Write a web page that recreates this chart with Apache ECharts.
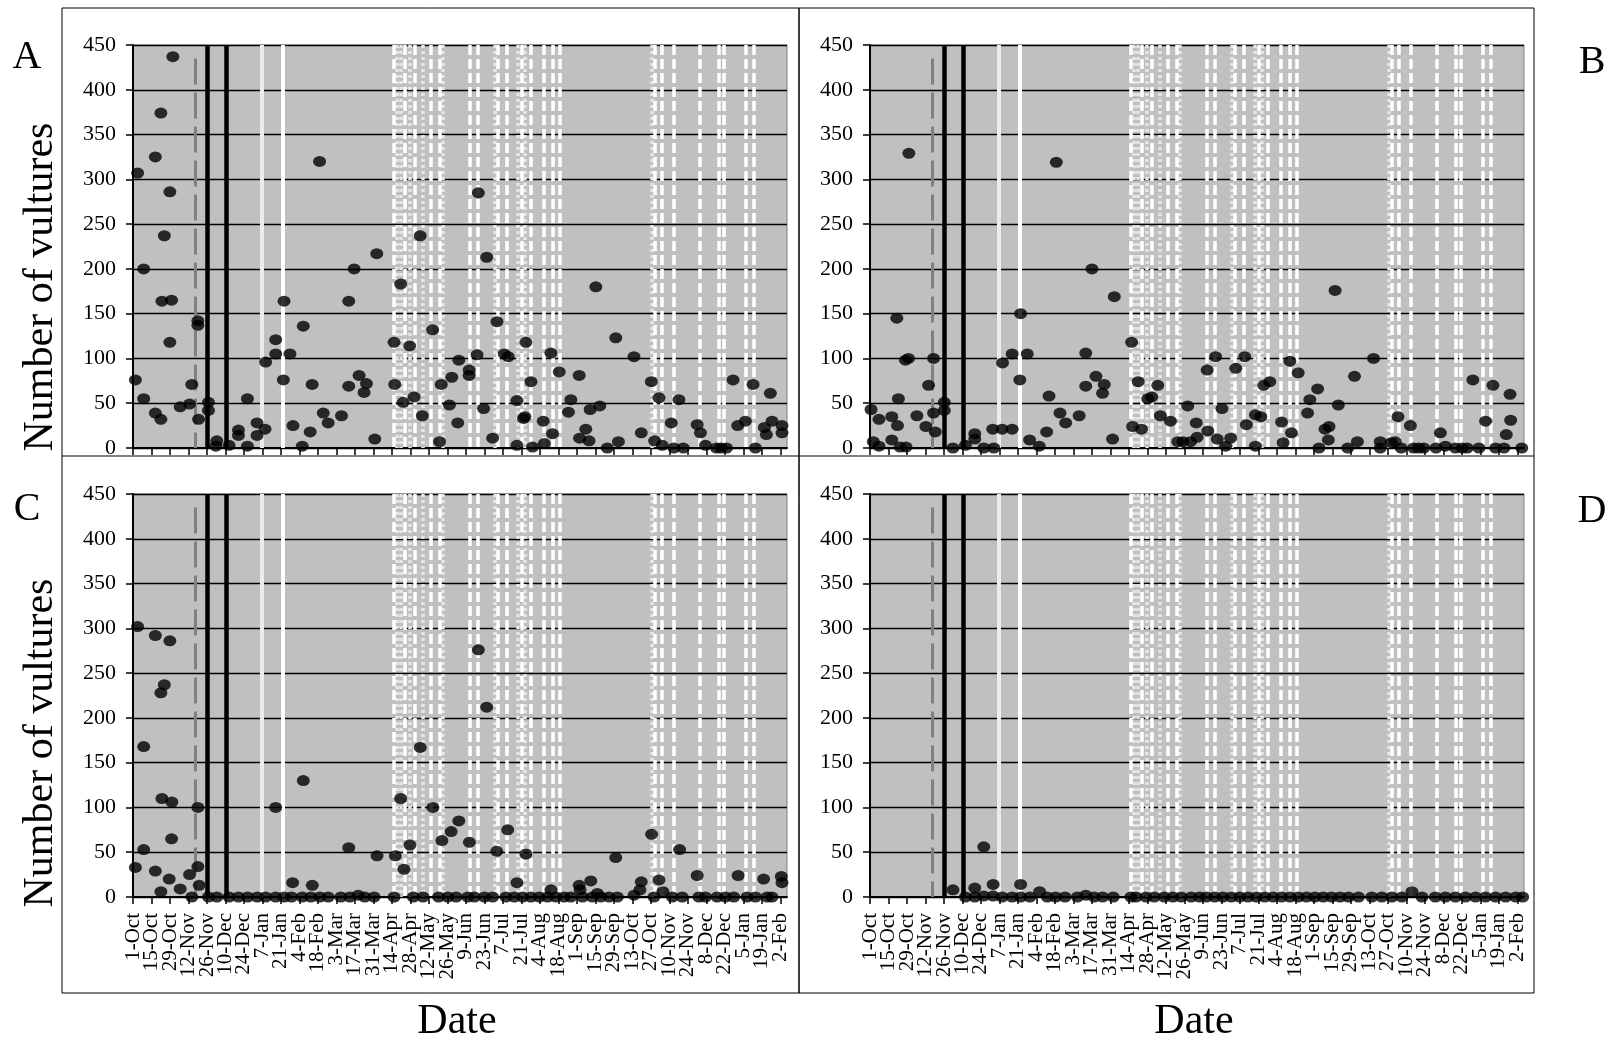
<!DOCTYPE html>
<html>
<head>
<meta charset="utf-8">
<title>Number of vultures</title>
<script src="https://cdn.jsdelivr.net/npm/echarts@6.0.0/dist/echarts.min.js"></script>
<style>
  html, body { margin: 0; padding: 0; background: #fff; }
  #chart { width: 1611px; height: 1043px; }
</style>
</head>
<body>
<div id="chart"></div>
<script>
// tick labels, one every 14 days starting 1-Oct
var dateLabels = ['1-Oct','15-Oct','29-Oct','12-Nov','26-Nov','10-Dec','24-Dec','7-Jan','21-Jan','4-Feb',
  '18-Feb','3-Mar','17-Mar','31-Mar','14-Apr','28-Apr','12-May','26-May','9-Jun','23-Jun','7-Jul','21-Jul',
  '4-Aug','18-Aug','1-Sep','15-Sep','29-Sep','13-Oct','27-Oct','10-Nov','24-Nov','8-Dec','22-Dec','5-Jan',
  '19-Jan','2-Feb'];
var tickDays = dateLabels.map(function (s, i) { return i * 14; });
// labels split over two axes so that ECharts does not drop neighbours of the end labels
var evenDays = tickDays.filter(function (d, i) { return i % 2 === 0; });
var oddDays = tickDays.filter(function (d, i) { return i % 2 === 1; });

// vertical event lines (days after 1-Oct)
var grayDashedDays = [47];
var blackDays = [56.5, 70.5];
var whiteDays = [97.5, 113.7];
var whiteDashedDays = [197, 206, 213, 225, 232, 255, 261, 276, 283, 294, 301, 311, 318, 323,
  395, 400, 409.5, 428.8, 443, 447, 464, 469.5];
var dottedDays = [199.5, 203, 209.5, 219, 234.5, 273.5, 291, 296.5, 393];

// [day, number of vultures]
var panelA = [[1.8,76],[3.5,307],[8.1,200],[8.1,55],[16.9,325],[16.9,39],[21.1,374],[21.1,32],[21.9,164],
  [23.7,237],[27.9,286],[27.9,118],[29.2,165],[30.2,437],[35.7,46],[42.8,49],[44.5,71],[49.1,142],[49.1,137],
  [49.6,32],[57.1,51],[57.1,42],[62.7,2],[63.4,8],[72.7,3],[79.8,20],[79.8,14],[86.6,2],[86.6,55],[93.9,28],
  [93.9,14],[99.9,21],[100.4,96],[108,121],[108,105],[113.8,76],[114.3,164],[118.8,105],[121.1,25],[128.1,2],
  [128.9,136],[134.1,18],[135.6,71],[141.2,320],[144,39],[147.7,28],[157.8,36],[163.3,164],[163.3,69],
  [167.4,200],[171.1,81],[174.9,62],[176.7,72],[183,10],[184.5,217],[197.6,118],[198.1,71],[202.6,183],
  [204.4,51],[209.4,114],[212.7,57],[217.4,237],[219,36],[226.8,132],[232,7],[233.3,71],[239.5,48],[241.3,79],
  [245.8,28],[246.6,98],[254.4,87],[254.4,81],[260.4,104],[261.4,285],[265.4,44],[267.7,213],[272.2,11],
  [275.5,141],[281,105],[284,102],[290.6,53],[290.6,3],[295.6,33],[296.6,35],[297.4,118],[301.2,74],[302.4,1],
  [310.5,30],[311.3,5],[316.3,106],[317.5,16],[322.6,85],[329.6,40],[331.4,54],[337.7,81],[338,11],[342.7,21],
  [345.2,8],[346,43],[350.3,180],[353.3,47],[359,0],[365.4,123],[367.4,7],[379.2,102],[384.7,17],[392.3,74],
  [394.8,8],[398.1,56],[400.6,3],[407.4,28],[409.4,0],[413.2,54],[416.5,0],[427,26],[429.5,17],[433.3,3],
  [441.6,0],[445.1,0],[449.2,0],[454.2,76],[457.7,25],[463.5,30],[469.3,71],[471.1,0],[477.9,23],[479.4,15],
  [482.4,61],[483.7,30],[491.2,25],[491.2,17]];

var panelB = [[0.8,43],[2.5,7],[6.8,32],[6.8,2],[16.5,35],[16.5,9],[20.3,145],[20.8,25],[21.5,55],[22.8,1],
  [26.8,98],[27.3,1],[29.1,100],[29.4,329],[35.5,36],[42.3,24],[44.3,70],[48.1,100],[48.1,39],[49.4,18],
  [56.2,51],[56.2,42],[62.8,0],[72.2,3],[79.3,16],[79.3,10],[86.1,0],[92.9,21],[93.7,0],[100,21],[100.3,95],
  [107.6,105],[107.6,21],[113.4,76],[114,150],[119,105],[120.8,9],[128.1,2],[133.7,18],[135.5,58],[141,319],
  [143.8,39],[148.1,28],[158.3,36],[163.3,106],[163.3,69],[168,200],[171,80],[176,61],[177.3,71],[183.6,10],
  [184.9,169],[198,118],[198.8,24],[203,74],[205.5,21],[210.2,55],[213.2,57],[217.8,70],[219.8,36],[227.4,30],
  [233,7],[236.8,7],[240.5,47],[242.6,7],[246.9,28],[247.6,12],[255.2,87],[255.7,19],[261.6,102],[262.8,10],
  [266.4,44],[269.2,2],[273,11],[276.8,89],[283.6,102],[284.9,26],[291.7,37],[291.7,2],[295.8,35],[298,70],
  [302.6,74],[311.5,29],[312.7,6],[317.8,97],[319,17],[324.1,84],[331.2,39],[332.9,54],[338.8,66],[339.8,0],
  [344.4,21],[346.9,9],[347.4,24],[352,176],[354.5,48],[361.6,0],[366.7,80],[368.9,7],[381.1,100],[386.2,7],
  [386.2,0],[394.5,6],[397.5,7],[399.6,35],[402.1,0],[409,25],[411.5,0],[415.3,0],[419.1,0],[428.4,0],
  [431.7,17],[435.5,2],[443.1,0],[448.2,0],[452,0],[456.3,76],[460.9,0],[465.9,30],[471.5,70],[473.5,0],
  [479.8,0],[481.6,15],[484.4,60],[484.9,31],[493.3,0]];

var panelC = [[1.8,33],[3.5,302],[8.1,168],[8.1,53],[16.9,292],[16.9,29],[21.1,228],[21.1,6],[21.9,110],
  [23.7,237],[27.4,20],[27.9,286],[29.2,65],[29.4,106],[35.7,9],[42.8,25],[44.5,0],[49.1,100],[49.1,34],
  [50.1,13],[57.1,0],[63.4,0],[72.7,0],[79.8,0],[86.8,0],[94.1,0],[100.4,0],[108,100],[108,0],[114.3,0],
  [120,0],[120.8,16],[128.1,0],[128.9,130],[134.6,0],[135.7,13],[141.4,0],[147.7,0],[157.3,0],[163.3,55],
  [164.1,0],[170.4,2],[175.4,0],[182.5,0],[184.7,46],[197.6,0],[198.6,46],[202.6,110],[205.1,31],[209.6,58],
  [212.2,0],[217.4,167],[219.5,0],[227,100],[231.3,0],[233.8,63],[238.3,0],[240.8,73],[244.6,0],[246.6,85],
  [253.4,0],[254.6,61],[258.4,0],[261.4,276],[266,0],[267.7,212],[272.2,0],[275.3,51],[282.3,0],[283.6,75],
  [288.6,0],[290.6,16],[294.9,0],[297.4,48],[301.2,0],[307.5,0],[313.8,0],[316.3,8],[320.1,0],[326.3,0],
  [331.4,0],[337.7,13],[338.4,8],[340.2,0],[346.5,18],[347.7,0],[351.5,4],[354,0],[360.3,0],[365.4,44],
  [366.6,0],[379.2,2],[383.7,8],[384.7,17],[392.5,70],[394.3,0],[398.1,19],[401.1,6],[408.2,0],[413.7,53],
  [415.7,0],[427,24],[428.3,0],[433.3,0],[442.1,0],[448.4,0],[454.7,0],[458,24],[464.8,0],[471.1,0],
  [477.3,20],[479.9,0],[483.6,0],[490.7,23],[491.2,16]];

var panelD = [[62.8,8],[72.2,0],[79.3,10],[79.3,0],[86.1,56],[86.1,1],[93.2,14],[93.2,1],[100,0],[107.6,0],
  [114,14],[114,0],[121,0],[128.4,6],[134.2,0],[140.5,0],[147.6,0],[157,0],[163.3,2],[169.7,0],[176,0],
  [184.1,0],[197.5,0],[201.3,0],[208.9,0],[215.2,0],[222.8,0],[229.2,0],[235.5,0],[243.1,0],[249.4,0],
  [254.5,0],[260.8,0],[267.1,0],[273.5,0],[279.8,0],[286.1,0],[292.5,0],[298.8,0],[305.1,0],[311.5,0],
  [317.8,0],[324.1,0],[330.4,0],[336.8,0],[343.1,0],[349.4,0],[355.8,0],[362.1,0],[369.7,0],[379.8,0],
  [387.4,0],[395,0],[402.6,0],[410.2,6],[417.8,0],[427.9,0],[435.5,0],[443.1,0],[450.7,0],[458.3,0],
  [465.9,0],[473.5,0],[481.1,0],[488.7,0],[494,0]];

var serif = '"Liberation Serif", "Times New Roman", serif';

function vline(d, top, style) {
  return [{ coord: [d, top], lineStyle: style }, { coord: [d, 0] }];
}

var eventLines = [];
grayDashedDays.forEach(function (d) {
  eventLines.push(vline(d, 435, { color: '#808080', width: 3, type: [26, 8] }));
});
whiteDays.forEach(function (d, i) {
  eventLines.push(vline(d, 450, { color: i === 0 ? '#ececec' : '#ffffff', width: 4, type: 'solid' }));
});
dottedDays.forEach(function (d) {
  eventLines.push(vline(d, 450, { color: '#e6e6e6', width: 3.5, type: [3, 3] }));
});
whiteDashedDays.forEach(function (d) {
  eventLines.push(vline(d, 450, { color: '#ffffff', width: 3.5, type: [10, 4] }));
});
blackDays.forEach(function (d) {
  eventLines.push(vline(d, 450, { color: '#000000', width: 4.5, type: 'solid' }));
});

var panels = [
  { data: panelA, left: 133, top: 45, showX: false },
  { data: panelB, left: 870, top: 45, showX: false },
  { data: panelC, left: 133, top: 494, showX: true },
  { data: panelD, left: 870, top: 494, showX: true }
];

function dateLabel(show, values) {
  return {
    show: show, rotate: 90, margin: 16, fontSize: 21, fontFamily: serif, color: '#000',
    hideOverlap: false, showMinLabel: true, showMaxLabel: true, customValues: values,
    formatter: function (v) { return dateLabels[Math.round(v / 14)] || ''; }
  };
}

var grids = [], xAxes = [], yAxes = [], series = [], extraX = [];
panels.forEach(function (p, i) {
  grids.push({
    left: p.left, top: p.top, width: 654, height: 403,
    show: true, backgroundColor: '#c0c0c0', borderColor: '#808080', borderWidth: 1
  });
  xAxes.push({
    gridIndex: i, type: 'value', min: 0, max: 495, interval: 14, position: 'bottom', offset: 0,
    axisLine: { show: true, onZero: false, lineStyle: { color: '#000', width: 2 } },
    axisTick: { show: true, length: 7, customValues: tickDays, lineStyle: { color: '#000', width: 1.5 } },
    axisLabel: dateLabel(p.showX, evenDays),
    splitLine: { show: false }
  });
  if (p.showX) {
    extraX.push({
      gridIndex: i, type: 'value', min: 0, max: 495, interval: 14, position: 'bottom', offset: 0,
      axisLine: { show: false }, axisTick: { show: false }, splitLine: { show: false },
      axisLabel: dateLabel(true, oddDays)
    });
  }
  yAxes.push({
    gridIndex: i, type: 'value', min: 0, max: 450, interval: 50,
    axisLine: { show: true, lineStyle: { color: '#000', width: 2 } },
    axisTick: { show: true, length: 7, lineStyle: { color: '#000', width: 1.5 } },
    axisLabel: { fontSize: 22, fontFamily: serif, color: '#000', margin: 17 },
    splitLine: { show: true, lineStyle: { color: '#000', width: 1.3 } }
  });
  series.push({
    type: 'scatter', xAxisIndex: i, yAxisIndex: i, data: [], z: 2, silent: true,
    markLine: {
      silent: true, animation: false, symbol: ['none', 'none'],
      label: { show: false }, emphasis: { disabled: true },
      data: eventLines
    }
  });
  series.push({
    type: 'scatter', xAxisIndex: i, yAxisIndex: i, data: p.data, z: 5, silent: true,
    clip: false, symbol: 'circle', symbolSize: [13, 11], itemStyle: { color: '#000' }
  });
});
xAxes = xAxes.concat(extraX);

function label(text, x, y, size, rot) {
  return {
    type: 'text', x: x, y: y, rotation: rot || 0, z: 10, silent: true,
    style: {
      text: text, fontSize: size, fontFamily: serif, fill: '#000',
      align: 'center', verticalAlign: 'middle', textAlign: 'center', textVerticalAlign: 'middle'
    }
  };
}

var graphics = [
  { type: 'rect', shape: { x: 62, y: 8, width: 737, height: 985 }, style: { fill: 'none', stroke: '#000', lineWidth: 1 }, silent: true, z: 0 },
  { type: 'rect', shape: { x: 799, y: 8, width: 735, height: 985 }, style: { fill: 'none', stroke: '#000', lineWidth: 1 }, silent: true, z: 0 },
  { type: 'line', shape: { x1: 62, y1: 456, x2: 1534, y2: 456 }, style: { stroke: '#000', lineWidth: 1 }, silent: true, z: 0 },
  label('A', 27, 57, 40),
  label('B', 1592, 62, 40),
  label('C', 27, 509, 40),
  label('D', 1592, 511, 40),
  label('Number of vultures', 41, 287, 42, Math.PI / 2),
  label('Number of vultures', 41, 743, 42, Math.PI / 2),
  label('Date', 457, 1022, 42),
  label('Date', 1194, 1022, 42)
];

var chart = echarts.init(document.getElementById('chart'), null, { renderer: 'canvas' });
chart.setOption({
  backgroundColor: '#ffffff',
  animation: false,
  grid: grids,
  xAxis: xAxes,
  yAxis: yAxes,
  series: series,
  graphic: graphics
});
</script>
</body>
</html>
